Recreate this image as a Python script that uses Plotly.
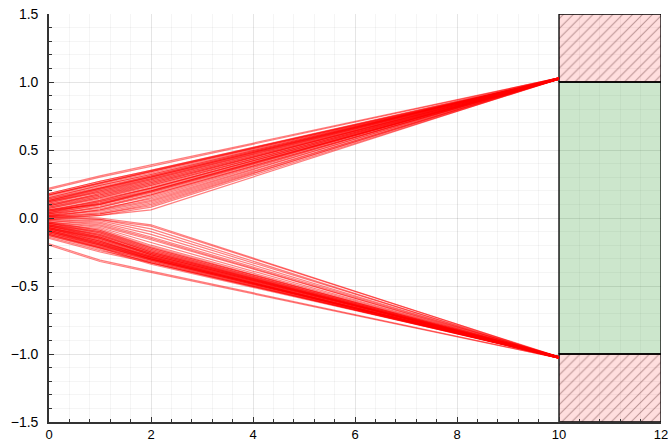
import plotly.graph_objects as go

# time points where trajectories have vertices
t_points = [0, 1, 2, 10]

# upper trajectories: values at t = 0, 1, 2, 10
upper_y0 = [0.22, 0.21, 0.18, 0.17, 0.17, 0.15, 0.14, 0.13, 0.12, 0.11, 0.10, 0.09, 0.08, 0.07, 0.06,
            0.05, 0.05, 0.04, 0.03, 0.03, 0.02, 0.02, 0.01, 0.01, 0.00, 0.00, -0.01, 0.06, 0.09, 0.12,
            0.18, 0.16, 0.14, 0.13, 0.11, 0.10, 0.08, 0.07, 0.05, 0.04, 0.03, 0.02, 0.15, 0.12, 0.09,
            0.06, 0.04, 0.01, 0.17, 0.13]
upper_y1 = [0.31, 0.30, 0.27, 0.26, 0.255, 0.24, 0.22, 0.21, 0.20, 0.19, 0.17, 0.16, 0.15, 0.14, 0.12,
            0.11, 0.10, 0.09, 0.08, 0.07, 0.06, 0.05, 0.04, 0.03, 0.03, 0.02, 0.02, 0.10, 0.18, 0.19,
            0.27, 0.25, 0.23, 0.22, 0.20, 0.18, 0.16, 0.15, 0.13, 0.12, 0.10, 0.08, 0.24, 0.21, 0.17,
            0.13, 0.11, 0.06, 0.26, 0.22]
upper_y2 = [0.39, 0.38, 0.35, 0.345, 0.34, 0.32, 0.31, 0.30, 0.28, 0.27, 0.25, 0.24, 0.23, 0.22, 0.20,
            0.19, 0.18, 0.17, 0.16, 0.14, 0.13, 0.12, 0.11, 0.10, 0.09, 0.08, 0.06, 0.20, 0.26, 0.28,
            0.35, 0.33, 0.31, 0.30, 0.29, 0.27, 0.25, 0.24, 0.22, 0.21, 0.19, 0.17, 0.32, 0.29, 0.26,
            0.22, 0.20, 0.15, 0.34, 0.30]
upper_y10 = [1.03, 1.03, 1.02, 1.025, 1.02, 1.02, 1.025, 1.02, 1.03, 1.02, 1.025, 1.02, 1.03, 1.02, 1.025,
             1.02, 1.03, 1.02, 1.025, 1.02, 1.03, 1.02, 1.025, 1.02, 1.03, 1.02, 1.025, 1.02, 1.02, 1.025,
             1.03, 1.02, 1.025, 1.03, 1.02, 1.025, 1.03, 1.02, 1.025, 1.02, 1.03, 1.02, 1.025, 1.03, 1.02,
             1.025, 1.02, 1.03, 1.02, 1.025]

# lower trajectories: values at t = 0, 1, 2, 10
lower_y0 = [-0.20, -0.19, -0.15, -0.14, -0.13, -0.12, -0.11, -0.10, -0.10, -0.09, -0.08, -0.08, -0.07, -0.06, -0.06,
            -0.05, -0.05, -0.04, -0.04, -0.03, -0.03, -0.02, -0.02, -0.01, -0.01, 0.00, 0.01, 0.02, -0.07, -0.09,
            -0.13, -0.12, -0.11, -0.10, -0.09, -0.08, -0.07, -0.06, -0.05, -0.04, -0.03, -0.11, -0.09, -0.07,
            -0.05, -0.12, -0.08, -0.06, -0.04, -0.10]
lower_y1 = [-0.32, -0.31, -0.25, -0.24, -0.22, -0.21, -0.20, -0.19, -0.18, -0.17, -0.16, -0.15, -0.14, -0.13, -0.12,
            -0.11, -0.10, -0.09, -0.08, -0.07, -0.06, -0.05, -0.04, -0.03, -0.02, -0.01, -0.01, 0.00, -0.15, -0.18,
            -0.23, -0.22, -0.21, -0.20, -0.19, -0.17, -0.16, -0.14, -0.13, -0.11, -0.09, -0.20, -0.18, -0.15,
            -0.12, -0.22, -0.17, -0.14, -0.10, -0.19]
lower_y2 = [-0.40, -0.39, -0.33, -0.32, -0.31, -0.30, -0.30, -0.29, -0.28, -0.28, -0.27, -0.26, -0.26, -0.25, -0.24,
            -0.23, -0.22, -0.21, -0.20, -0.18, -0.16, -0.15, -0.14, -0.12, -0.10, -0.08, -0.06, -0.05, -0.27, -0.29,
            -0.34, -0.33, -0.32, -0.31, -0.30, -0.29, -0.28, -0.27, -0.25, -0.24, -0.22, -0.31, -0.30, -0.27,
            -0.25, -0.33, -0.29, -0.26, -0.23, -0.30]
lower_y10 = [-1.03, -1.03, -1.02, -1.025, -1.02, -1.03, -1.02, -1.025, -1.02, -1.03, -1.02, -1.025, -1.02, -1.03, -1.02,
             -1.025, -1.02, -1.03, -1.02, -1.025, -1.02, -1.03, -1.02, -1.025, -1.02, -1.03, -1.02, -1.025, -1.02, -1.03,
             -1.02, -1.025, -1.03, -1.02, -1.025, -1.03, -1.02, -1.025, -1.02, -1.03, -1.02, -1.025, -1.03, -1.02,
             -1.025, -1.02, -1.03, -1.02, -1.025, -1.02]

# target / unsafe regions (x range, y range)
region_x = [10, 12]
unsafe_top_y = [1.0, 1.5]
safe_y = [-1.0, 1.0]
unsafe_bottom_y = [-1.5, -1.0]

fig = go.Figure()


def rect_trace(xr, yr, **kw):
    xs = [xr[0], xr[1], xr[1], xr[0], xr[0]]
    ys = [yr[0], yr[0], yr[1], yr[1], yr[0]]
    return go.Scatter(x=xs, y=ys, mode="lines", fill="toself",
                      line=dict(color="black", width=1.3), hoverinfo="skip",
                      showlegend=False, **kw)


fig.add_trace(rect_trace(region_x, safe_y, fillcolor="rgba(0,128,0,0.2)"))
for yr in (unsafe_top_y, unsafe_bottom_y):
    fig.add_trace(rect_trace(
        region_x, yr, fillcolor="rgba(255,0,0,0.13)",
        fillpattern=dict(shape="/", size=7, solidity=0.15,
                         fgcolor="rgba(70,20,20,0.75)", bgcolor="rgba(255,0,0,0.13)")))

for ys in zip(upper_y0, upper_y1, upper_y2, upper_y10):
    fig.add_trace(go.Scatter(x=t_points, y=list(ys), mode="lines",
                             line=dict(color="rgba(255,0,0,0.5)", width=1.2),
                             showlegend=False, hoverinfo="skip"))
for ys in zip(lower_y0, lower_y1, lower_y2, lower_y10):
    fig.add_trace(go.Scatter(x=t_points, y=list(ys), mode="lines",
                             line=dict(color="rgba(255,0,0,0.5)", width=1.2),
                             showlegend=False, hoverinfo="skip"))

axis_common = dict(
    showline=True, linecolor="#333333", linewidth=1.6, mirror=False,
    ticks="inside", ticklen=5, tickcolor="#333333", tickwidth=1,
    showgrid=True, gridcolor="rgba(0,0,0,0.1)", gridwidth=1,
    zeroline=False, automargin=False, ticklabeloverflow="allow",
)

fig.update_xaxes(range=[0, 12], dtick=2, tick0=0, ticklabelstandoff=0,
                 tickfont=dict(family="Liberation Sans", size=13, color="black"),
                 minor=dict(dtick=0.4, ticks="inside", ticklen=3, tickcolor="#333333",
                            showgrid=True, gridcolor="rgba(0,0,0,0.04)"),
                 **axis_common)
fig.update_yaxes(range=[-1.5, 1.5], dtick=0.5, tick0=0, tickformat=".1f", ticklabelstandoff=6,
                 tickfont=dict(family="Liberation Sans", size=14, color="black"),
                 minor=dict(dtick=0.1, ticks="inside", ticklen=3, tickcolor="#333333",
                            showgrid=True, gridcolor="rgba(0,0,0,0.04)"),
                 **axis_common)

fig.update_layout(
    width=672, height=443,
    margin=dict(l=49, r=11, t=14, b=21),
    paper_bgcolor="white", plot_bgcolor="white",
    showlegend=False,
)

# remove the default page margin so the figure fills the window exactly
fig.write_html("out.html", config={"displayModeBar": False},
               post_script="document.body.style.margin='0px';")
